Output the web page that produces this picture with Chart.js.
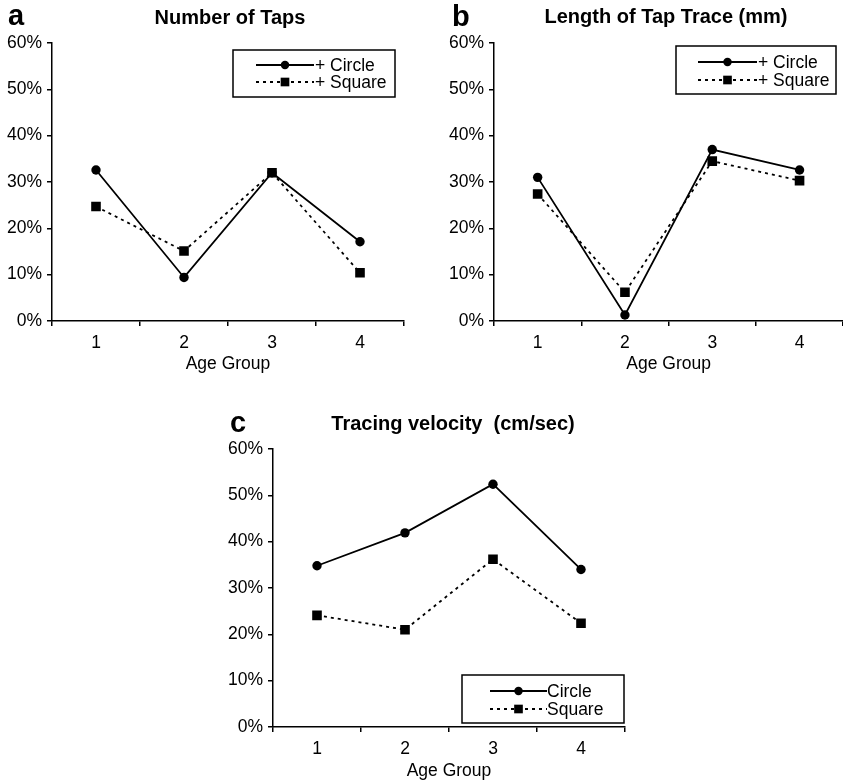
<!DOCTYPE html>
<html><head><meta charset="utf-8">
<script src="https://cdn.jsdelivr.net/npm/chart.js@4/dist/chart.umd.min.js"></script>
<style>
html,body{margin:0;padding:0;background:#fff;overflow:hidden;width:843px;height:782px;}
.p{position:absolute;}
canvas{display:block;}
</style></head><body>
<div class="p" style="left:0;top:0;"><canvas id="ca" width="420" height="380"></canvas></div>
<div class="p" style="left:420px;top:0;"><canvas id="cb" width="430" height="380"></canvas></div>
<div class="p" style="left:220px;top:400px;"><canvas id="cc" width="420" height="382"></canvas></div>
<script>
// ---- data ----
const ageGroups = ['1', '2', '3', '4'];
const yTickValues = [0, 10, 20, 30, 40, 50, 60]; // percent
const tapsCircle = [32.6, 9.4, 32.0, 17.1];
const tapsSquare = [24.7, 15.1, 32.0, 10.4];
const traceCircle = [31.0, 1.3, 37.0, 32.6];
const traceSquare = [27.4, 6.2, 34.5, 30.3];
const velocityCircle = [34.8, 41.9, 52.4, 34.0];
const velocitySquare = [24.1, 21.0, 36.2, 22.4];
const panelLetters = ['a', 'b', 'c'];
const panelTitles = ['Number of Taps', 'Length of Tap Trace (mm)', 'Tracing velocity  (cm/sec)'];
const legendLabelsAB = ['+ Circle', '+ Square'];
const legendLabelsC = ['Circle', 'Square'];
const xTitle = 'Age Group';

// ---- styling ----
const F = "'Liberation Sans', Arial, Helvetica, sans-serif";
const TICK_SIZE = 17.5;

function decorPlugin(cfg) {
  return {
    id: 'decor' + cfg.letter,
    afterDraw(chart) {
      const ctx = chart.ctx;
      ctx.save();
      // panel letter
      ctx.fillStyle = '#000';
      ctx.textAlign = 'left';
      ctx.textBaseline = 'alphabetic';
      ctx.font = 'bold 29px ' + F;
      ctx.fillText(cfg.letter, cfg.letterX, cfg.letterY);
      // title
      ctx.font = 'bold 20px ' + F;
      ctx.textAlign = 'center';
      ctx.textBaseline = 'middle';
      ctx.fillText(cfg.title, cfg.titleX, cfg.titleY);
      // legend
      const L = cfg.legend;
      ctx.lineWidth = 1.5;
      ctx.strokeStyle = '#000';
      ctx.setLineDash([]);
      ctx.strokeRect(L.x, L.y, L.w, L.h);
      chart.data.datasets.forEach((ds, i) => {
        const y = L.rowY[i];
        ctx.beginPath();
        ctx.setLineDash(ds.borderDash || []);
        ctx.lineWidth = ds.borderWidth;
        ctx.moveTo(L.x0, y);
        ctx.lineTo(L.x1, y);
        ctx.stroke();
        ctx.setLineDash([]);
        ctx.fillStyle = '#000';
        ctx.strokeStyle = '#000';
        Chart.helpers.drawPoint(ctx, {pointStyle: ds.pointStyle, radius: ds.pointRadius * 0.9, borderWidth: 0, rotation: 0}, (L.x0 + L.x1) / 2, y);
        ctx.font = TICK_SIZE + 'px ' + F;
        ctx.textAlign = 'left';
        ctx.textBaseline = 'middle';
        ctx.fillText(ds.label, L.textX, y + 1);
      });
      ctx.restore();
    }
  };
}

function makeChart(id, circle, square, labels, cfg) {
  return new Chart(document.getElementById(id), {
    type: 'line',
    data: {
      labels: ageGroups,
      datasets: [
        {label: labels[0], data: circle, borderColor: '#000', backgroundColor: '#000', borderWidth: 1.8,
         pointStyle: 'circle', pointRadius: 4.7, pointBackgroundColor: '#000', pointBorderColor: '#000', pointBorderWidth: 0, tension: 0, fill: false},
        {label: labels[1], data: square, borderColor: '#000', backgroundColor: '#000', borderWidth: 1.8, borderDash: [3, 4],
         pointStyle: 'rect', pointRadius: 6.8, pointBackgroundColor: '#000', pointBorderColor: '#000', pointBorderWidth: 0, tension: 0, fill: false}
      ]
    },
    options: {
      responsive: false, animation: false, devicePixelRatio: 1,
      layout: {padding: cfg.padding},
      plugins: {legend: {display: false}, tooltip: {enabled: false}, title: {display: false}},
      scales: {
        x: {
          type: 'category', offset: true,
          grid: {offset: true, drawOnChartArea: false, drawTicks: true, tickLength: 5, color: '#000', lineWidth: 1.5},
          border: {display: true, color: '#000', width: 1.5},
          ticks: {color: '#000', font: {family: F, size: TICK_SIZE}, padding: 7, maxRotation: 0, autoSkip: false},
          title: {display: true, text: xTitle, color: '#000', font: {family: F, size: TICK_SIZE}, padding: {top: 0, bottom: cfg.xTitlePad}},
          afterFit(s) { s.height = cfg.xH; }
        },
        y: {
          min: yTickValues[0], max: yTickValues[yTickValues.length - 1],
          afterBuildTicks(s) { s.ticks = yTickValues.map(v => ({value: v})); },
          ticks: {callback: v => v + '%', color: '#000', font: {family: F, size: TICK_SIZE}, padding: 5},
          grid: {drawOnChartArea: false, drawTicks: true, tickLength: 5, color: '#000', lineWidth: 1.5},
          border: {display: true, color: '#000', width: 1.5},
          afterFit(s) { s.width = cfg.yW; }
        }
      }
    },
    plugins: [decorPlugin(cfg)]
  });
}

makeChart('ca', tapsCircle, tapsSquare, legendLabelsAB, {
  padding: {left: 0, right: 16, top: 43, bottom: 0}, yW: 52, xH: 59, xTitlePad: 5,
  letter: panelLetters[0], letterX: 8, letterY: 25, title: panelTitles[0], titleX: 230, titleY: 18,
  legend: {x: 233, y: 50, w: 162, h: 47, x0: 256, x1: 314, textX: 315, rowY: [65, 82]}
});
makeChart('cb', traceCircle, traceSquare, legendLabelsAB, {
  padding: {left: 0, right: 4, top: 43, bottom: 0}, yW: 74, xH: 59, xTitlePad: 5,
  letter: panelLetters[1], letterX: 32, letterY: 26, title: panelTitles[1], titleX: 246, titleY: 17,
  legend: {x: 256, y: 46, w: 160, h: 48, x0: 278, x1: 337, textX: 338, rowY: [62, 80]}
});
makeChart('cc', velocityCircle, velocitySquare, legendLabelsC, {
  padding: {left: 0, right: 15, top: 49, bottom: 0}, yW: 53, xH: 55, xTitlePad: 0,
  letter: panelLetters[2], letterX: 10, letterY: 32, title: panelTitles[2], titleX: 233, titleY: 24,
  legend: {x: 242, y: 275, w: 162, h: 48, x0: 270, x1: 327, textX: 327, rowY: [291, 309]}
});
</script>
</body></html>
